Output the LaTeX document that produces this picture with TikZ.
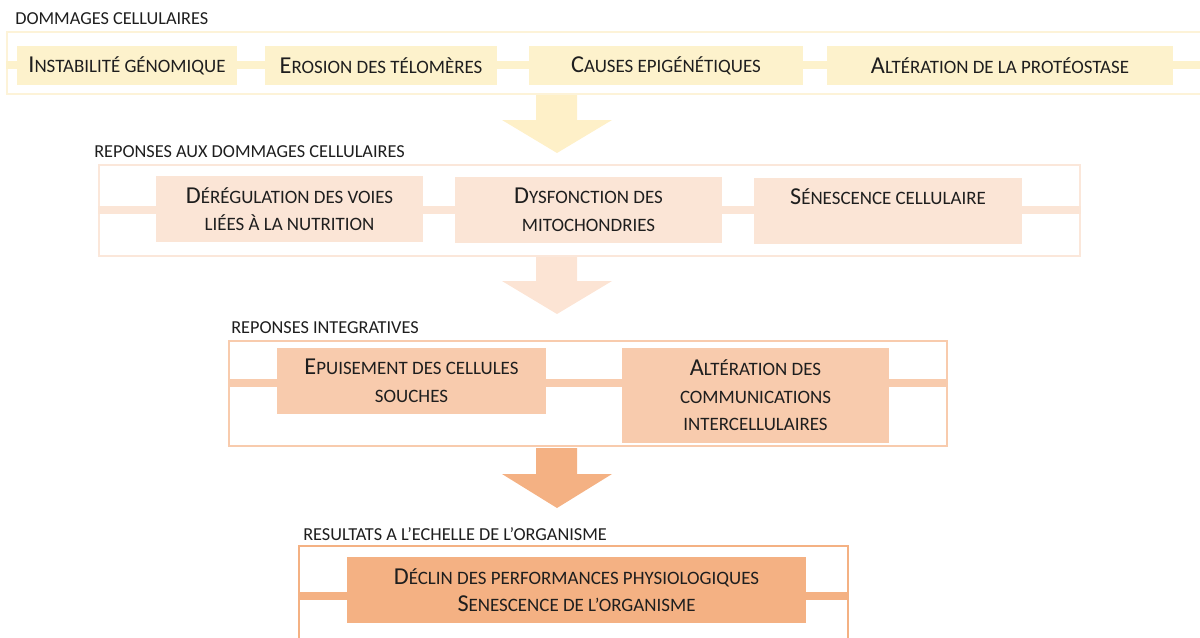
\documentclass[tikz,border=0pt]{standalone}
\usepackage{fontspec}
\setmainfont{Carlito}
\usetikzlibrary{fit}
\definecolor{txt}{HTML}{1E1E1E}
\definecolor{yfill}{HTML}{FDF2CC}
\definecolor{yline}{HTML}{FDF3D8}
\definecolor{yarrow}{HTML}{FEF0C8}
\definecolor{pfill}{HTML}{FBE5D6}
\definecolor{pline}{HTML}{FBE7DA}
\definecolor{parrow}{HTML}{FCE4D4}
\definecolor{ofill}{HTML}{F8CBAD}
\definecolor{oline}{HTML}{F8CBAD}
\definecolor{darrow}{HTML}{F4B183}
\definecolor{dfill}{HTML}{F4B183}
\definecolor{dline}{HTML}{F4B183}
\newcommand\Sc[2]{{\fontsize{18.2}{20.6}\selectfont #1}#2}
\tikzset{
  x=0.75pt, y=-0.75pt,
  every node/.style={text=txt},
  boxtext/.style={inner sep=0pt, align=center, font=\fontsize{14.2}{20.6}\selectfont},
  boxshape/.style={inner sep=0pt, fill=#1},
  frame/.style={draw=#1, line width=1.2pt, inner sep=0pt},
  bar/.style={draw=#1, line width=6pt},
  head/.style={anchor=base west, inner sep=0pt, font=\fontsize{13.7}{16}\selectfont},
}
\begin{document}
\begin{tikzpicture}
\useasboundingbox (0,0) rectangle (1200,637);
% ---- level 1
\node[head] (h1) at (15,24) {DOMMAGES CELLULAIRES};
\node[frame=yline, fit={(7,32) (1212,94)}] (f1) {};
\draw[bar=yfill] (f1.west |- 0,65) -- (f1.east |- 0,65);
\node[boxshape=yfill, fit={(17,46) (237,85)}] (b1) {};
\node[boxshape=yfill, fit={(265,46) (497,85)}] (b2) {};
\node[boxshape=yfill, fit={(529,46) (803,85)}] (b3) {};
\node[boxshape=yfill, fit={(827,46) (1173,85)}] (b4) {};
\node[boxtext] (t1) at (b1) {\Sc{I}{NSTABILITÉ GÉNOMIQUE}};
\node[boxtext] (t2) at (b2) {\Sc{E}{ROSION DES TÉLOMÈRES}};
\node[boxtext] (t3) at (b3) {\Sc{C}{AUSES EPIGÉNÉTIQUES}};
\node[boxtext] (t4) at (b4) {\Sc{A}{LTÉRATION DE LA PROTÉOSTASE}};
\fill[yarrow] (536,95) -- (577,95) -- (577,120) -- (612,120) -- (557,153) -- (502,120) -- (536,120) -- cycle;
% ---- level 2
\node[head] (h2) at (94,157) {REPONSES AUX DOMMAGES CELLULAIRES};
\node[frame=pline, fit={(99,165) (1080,256)}] (f2) {};
\draw[bar=pfill] (f2.west |- 0,210) -- (f2.east |- 0,210);
\node[boxshape=pfill, fit={(156,176) (423,242)}] (b5) {};
\node[boxshape=pfill, fit={(455,177) (722,243)}] (b6) {};
\node[boxshape=pfill, fit={(754,178) (1022,244)}] (b7) {};
\node[boxtext] (t5) at (b5) {\Sc{D}{ÉRÉGULATION DES VOIES}\\LIÉES À LA NUTRITION};
\node[boxtext] (t6) at (b6) {\Sc{D}{YSFONCTION DES}\\MITOCHONDRIES};
\node[boxtext, anchor=base] (t7) at ([yshift=-20pt]b7.north) {\Sc{S}{ÉNESCENCE CELLULAIRE}};
\fill[parrow] (536,257) -- (577,257) -- (577,281) -- (612,281) -- (557,314) -- (502,281) -- (536,281) -- cycle;
% ---- level 3
\node[head] (h3) at (231,333) {REPONSES INTEGRATIVES};
\node[frame=oline, fit={(229,341) (947,446)}] (f3) {};
\draw[bar=ofill] (f3.west |- 0,383) -- (f3.east |- 0,383);
\node[boxshape=ofill, fit={(277,348) (546,414)}] (b8) {};
\node[boxshape=ofill, fit={(622,348) (889,443)}] (b9) {};
\node[boxtext] (t8) at (b8) {\Sc{E}{PUISEMENT DES CELLULES}\\SOUCHES};
\node[boxtext] (t9) at (b9) {\Sc{A}{LTÉRATION DES}\\COMMUNICATIONS\\INTERCELLULAIRES};
\fill[darrow] (536,448) -- (577,448) -- (577,474) -- (612,474) -- (557,508) -- (502,474) -- (536,474) -- cycle;
% ---- level 4
\node[head] (h4) at (303,540) {RESULTATS A L’ECHELLE DE L’ORGANISME};
\node[frame=dline, fit={(299,546) (848,660)}] (f4) {};
\draw[bar=dfill] (f4.west |- 0,596) -- (f4.east |- 0,596);
\node[boxshape=dfill, fit={(347,557) (806,623)}] (b10) {};
\node[boxtext] (t10) at (b10) {\Sc{D}{ÉCLIN DES PERFORMANCES PHYSIOLOGIQUES}\\\Sc{S}{ENESCENCE DE L’ORGANISME}};
\end{tikzpicture}
\end{document}
